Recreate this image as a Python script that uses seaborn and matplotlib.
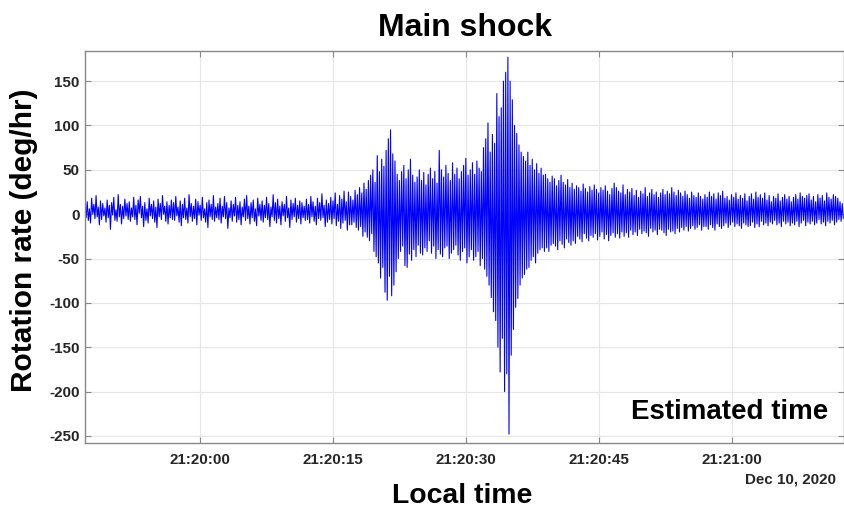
import numpy as np
import pandas as pd
import matplotlib
matplotlib.use("Agg")
import matplotlib.pyplot as plt
import matplotlib.dates as mdates
import seaborn as sns

# ---- data (deg/hr), one sample every 0.125 s ----
start_time = "2020-12-10 21:19:47"
sample_step_s = 0.125
rate = [
    # 21:19:47 - 21:19:52
    9, -4, 14, -7, 6, -10, 18, 0, 11, -5, 21, -3, 8, -12, 15, -6, 12, -2, 7, -9,
    16, -4, 10, -17, 13, -1, 19, -7, 5, -8, 22, -3, 11, -11, 9, -5, 17, -2, 12, -6,
    # 21:19:52 - 21:19:57
    14, -8, 7, -3, 19, -6, 10, -12, 16, 1, 20, -4, 9, -14, 13, -7, 6, -10, 18, -2,
    11, -5, 15, -9, 8, -15, 17, -3, 12, -6, 21, 0, 9, -8, 14, -11, 10, -4, 16, -6,
    # 21:19:57 - 21:20:02
    13, -7, 20, -2, 8, -9, 15, -13, 11, -4, 18, -6, 7, -10, 22, -3, 12, -8, 9, -5,
    17, -12, 14, -1, 10, -7, 19, -4, 6, -9, 13, -15, 16, -3, 11, -6, 21, -8, 8, -4,
    # 21:20:02 - 21:20:07
    12, -6, 18, -10, 9, -3, 20, -5, 13, -16, 7, -4, 15, -8, 11, -2, 19, -9, 10, -6,
    14, -12, 8, -3, 17, -7, 21, -5, 9, -11, 13, -4, 16, -8, 6, -13, 18, -2, 11, -7,
    # 21:20:07 - 21:20:12
    15, -9, 10, -4, 19, -6, 12, -14, 8, -3, 22, -7, 13, -10, 17, -5, 9, -12, 14, -2,
    11, -8, 20, -4, 7, -15, 16, -6, 12, -3, 18, -9, 10, -5, 15, -11, 13, -4, 9, -7,
    # 21:20:12 - 21:20:17
    17, -6, 11, -10, 20, -3, 14, -8, 9, -12, 18, -5, 13, -7, 23, -4, 10, -14, 16, -9,
    12, -6, 19, -11, 15, -5, 24, -13, 11, -8, 21, -16, 17, -10, 26, -7, 14, -18, 25, -12,
    # 21:20:17 - 21:20:22  (first burst)
    20, -12, 16, -9, 27, -15, 22, -18,
    30, -14, 24, -25, 35, -20, 28, -26,
    38, -30, 44, -22, 50, -42, 36, -48,
    66, -55, 48, -72, 62, -60, 54, -88,
    72, -97, 85, -70, 95, -92, 68, -80,
    # 21:20:22 - 21:20:27
    60, -65, 45, -50, 38, -42, 48, -36,
    55, -58, 40, -60, 50, -45, 62, -52,
    44, -40, 36, -48, 42, -35, 50, -44,
    38, -46, 47, -38, 33, -42, 45, -30,
    52, -44, 40, -36, 48, -50, 35, -40,
    # 21:20:27 - 21:20:32
    72, -45, 50, -48, 42, -38, 55, -36,
    46, -50, 38, -44, 58, -40, 45, -35,
    52, -46, 40, -52, 48, -42, 55, -38,
    63, -55, 44, -48, 50, -40, 58, -52,
    45, -48, 60, -42, 52, -58, 48, -50,
    # 21:20:32 - 21:20:37  (main arrival)
    75, -62, 85, -70, 103, -80, 70, -94,
    90, -110, 80, -120, 136, -150, 110, -178,
    120, -140, 150, -200, 160, -180, 177, -248,
    150, -159, 129, -130, 100, -105, 91, -95,
    78, -80, 70, -72, 65, -68, 60, -62,
    # 21:20:37 - 21:20:42
    70, -60, 55, -52, 62, -48, 50, -55,
    57, -44, 46, -40, 52, -38, 44, -42,
    45, -38, 40, -42, 36, -35, 43, -33,
    40, -36, 32, -40, 38, -30, 44, -34,
    36, -38, 33, -28, 39, -32, 30, -35,
    # 21:20:42 - 21:20:47
    35, -30, 28, -33, 32, -25, 30, -28,
    26, -31, 34, -22, 29, -27, 25, -30,
    31, -24, 27, -26, 33, -22, 28, -29,
    24, -25, 30, -20, 27, -28, 32, -23,
    26, -30, 22, -24, 29, -21, 35, -26,
    # 21:20:47 - 21:20:52
    30, -22, 26, -27, 24, -20, 33, -25,
    22, -21, 28, -26, 25, -18, 29, -23,
    21, -20, 27, -24, 19, -17, 26, -22,
    23, -19, 30, -21, 20, -25, 24, -16,
    28, -20, 22, -18, 25, -23, 19, -17,
    # 21:20:52 - 21:20:57
    24, -18, 28, -21, 22, -24, 26, -17,
    23, -20, 30, -19, 25, -22, 21, -16,
    27, -20, 24, -15, 20, -18, 26, -14,
    22, -19, 18, -16, 25, -13, 21, -17,
    19, -15, 24, -12, 20, -18, 17, -14,
    # 21:20:57 - 21:21:02
    22, -14, 19, -17, 25, -12, 20, -15,
    23, -18, 17, -11, 24, -14, 21, -16,
    26, -13, 18, -10, 20, -15, 16, -12,
    22, -9, 19, -14, 24, -11, 17, -13,
    21, -16, 18, -10, 23, -12, 15, -14,
    # 21:21:02 - 21:21:07
    20, -13, 23, -9, 17, -15, 25, -11,
    19, -14, 22, -8, 18, -12, 24, -10,
    16, -13, 21, -9, 14, -11, 20, -7,
    18, -12, 23, -10, 15, -14, 19, -8,
    22, -11, 17, -9, 20, -13, 14, -10,
    # 21:21:07 - 21:21:12.75
    19, -12, 22, -8, 17, -14, 24, -10,
    20, -7, 18, -13, 21, -9, 23, -11,
    16, -8, 20, -12, 14, -10, 22, -6,
    18, -11, 21, -9, 15, -13, 24, -8,
    19, -10, 17, -7, 22, -12, 20, -9,
    18, -6, 14, -8, 12, -5,
]
y_ticks = [-250, -200, -150, -100, -50, 0, 50, 100, 150]
x_limits = ["2020-12-10 21:19:47.0", "2020-12-10 21:21:12.7"]
y_limits = [-258, 184]

times = pd.Timestamp(start_time) + pd.to_timedelta(
    np.arange(len(rate)) * sample_step_s, unit="s")
df = pd.DataFrame({"time": times, "rate": rate})

# ---- style ----
sns.set_theme(style="whitegrid")
plt.rcParams["font.family"] = ["Liberation Sans", "DejaVu Sans"]
plt.rcParams["font.weight"] = "bold"
plt.rcParams["axes.unicode_minus"] = False

fig = plt.figure(figsize=(8.45, 5.11), dpi=100)
ax = fig.add_axes([85 / 845, 1 - 443 / 511, (844 - 85) / 845, (443 - 51) / 511])

sns.lineplot(data=df, x="time", y="rate", ax=ax, color="blue",
             linewidth=0.8, estimator=None)

ax.set_xlim(pd.Timestamp(x_limits[0]), pd.Timestamp(x_limits[1]))
ax.set_ylim(*y_limits)
ax.set_yticks(y_ticks)
ax.xaxis.set_major_locator(mdates.SecondLocator(bysecond=[0, 15, 30, 45]))
ax.xaxis.set_major_formatter(mdates.DateFormatter("%H:%M:%S"))

ax.set_facecolor("white")
ax.grid(True, color="#e6e6e6", linewidth=0.8)
for side in ["left", "right", "top", "bottom"]:
    ax.spines[side].set_visible(True)
    ax.spines[side].set_color("#888888")
    ax.spines[side].set_linewidth(1.0)
ax.tick_params(axis="both", direction="in", length=4, width=0.8,
               color="#888888", labelsize=10.9, labelcolor="#262626",
               top=True, right=True, left=True, bottom=True)
ax.tick_params(axis="x", pad=7)
ax.tick_params(axis="y", pad=4)
for lbl in ax.get_xticklabels() + ax.get_yticklabels():
    lbl.set_fontweight("bold")

ax.set_xlabel("")
ax.set_ylabel("")
fig.text(464.5 / 845, 1 - 36 / 511, "Main shock", ha="center", va="baseline",
         fontsize=23, fontweight="bold", color="black")
fig.text(462 / 845, 1 - 503 / 511, "Local time", ha="center", va="baseline",
         fontsize=20.4, fontweight="bold", color="black")
fig.text(24 / 845, 1 - 240.5 / 511, "Rotation rate (deg/hr)", rotation=90,
         ha="center", va="center", fontsize=21.5, fontweight="bold", color="black")
fig.text(828 / 845, 1 - 419 / 511, "Estimated time", ha="right", va="baseline",
         fontsize=20, fontweight="bold", color="black")
fig.text(836 / 845, 1 - 484 / 511, "Dec 10, 2020", ha="right", va="baseline",
         fontsize=10.9, fontweight="bold", color="#262626")

fig.savefig("out.png", dpi=100, facecolor="white")
